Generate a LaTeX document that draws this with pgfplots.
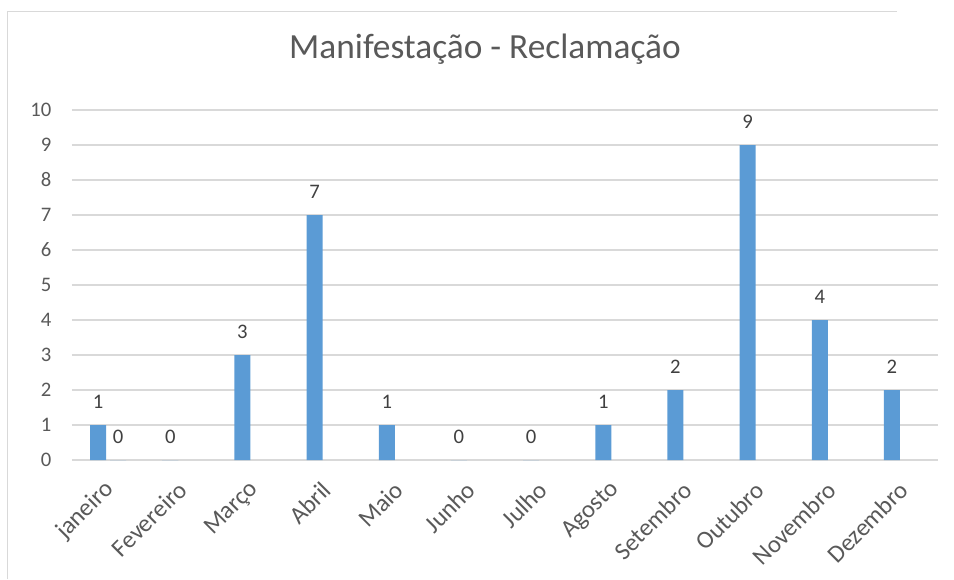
\documentclass[border=0pt]{standalone}
\usepackage{fontspec}
\setmainfont{Carlito}
\usepackage{pgfplots}
\pgfplotsset{compat=1.18}
\definecolor{barblue}{HTML}{5B9BD5}
\definecolor{gridgray}{HTML}{D9D9D9}
\definecolor{txtgray}{HTML}{595959}
\definecolor{lblgray}{HTML}{404040}
\begin{document}
\begin{tikzpicture}
\begin{axis}[
  scale only axis,
  width=649.5pt, height=262.5pt,
  ybar, bar width=12pt,
  xmin=-0.5, xmax=11.5,
  ymin=0, ymax=10,
  ytick={0,1,...,10},
  yticklabels={0,1,2,3,4,5,6,7,8,9,10},
  xtick={0,1,...,11},
  xticklabels={janeiro,Fevereiro,Março,Abril,Maio,Junho,Julho,Agosto,Setembro,Outubro,Novembro,Dezembro},
  axis line style={draw=none},
  major tick length=0pt,
  ymajorgrids, grid style={gridgray, line width=0.9pt},
  yticklabel style={anchor=east, xshift=-12pt, font=\fontsize{15.5}{18}\selectfont, text=txtgray},
  xticklabel style={xshift=4pt, yshift=-17pt, rotate=45, anchor=east,
    font=\fontsize{18.5}{20}\selectfont, text=txtgray},
  title={Manifestação - Reclamação},
  title style={at={(0.4769,1)}, anchor=base, yshift=33pt,
    font=\fontsize{26.5}{30}\selectfont, text=txtgray},
  point meta=explicit symbolic,
  nodes near coords,
  every node near coord/.append style={anchor=south, yshift=8.5pt,
    font=\fontsize{15.5}{18}\selectfont, text=lblgray},
]
\addplot[fill=barblue, draw=none, bar shift=-7.5pt] coordinates {
  (0,1) [1] (1,0) [0] (2,3) [3] (3,7) [7] (4,1) [1] (5,0) [0]
  (6,0) [0] (7,1) [1] (8,2) [2] (9,9) [9] (10,4) [4] (11,2) [2]};
\addplot[fill=barblue, draw=none, bar shift=7.5pt] coordinates {(0,0) [0]};
\end{axis}
\pgfresetboundingbox
\path (current axis.south west) ++(-54pt,-89.25pt) rectangle ++(715.5pt,434.25pt);
\draw[gridgray, line width=1.2pt] (current axis.south west) ++(-48.4pt,-89.25pt) -- ++(0,425.6pt) -- ++(667pt,0);
\end{tikzpicture}
\end{document}
